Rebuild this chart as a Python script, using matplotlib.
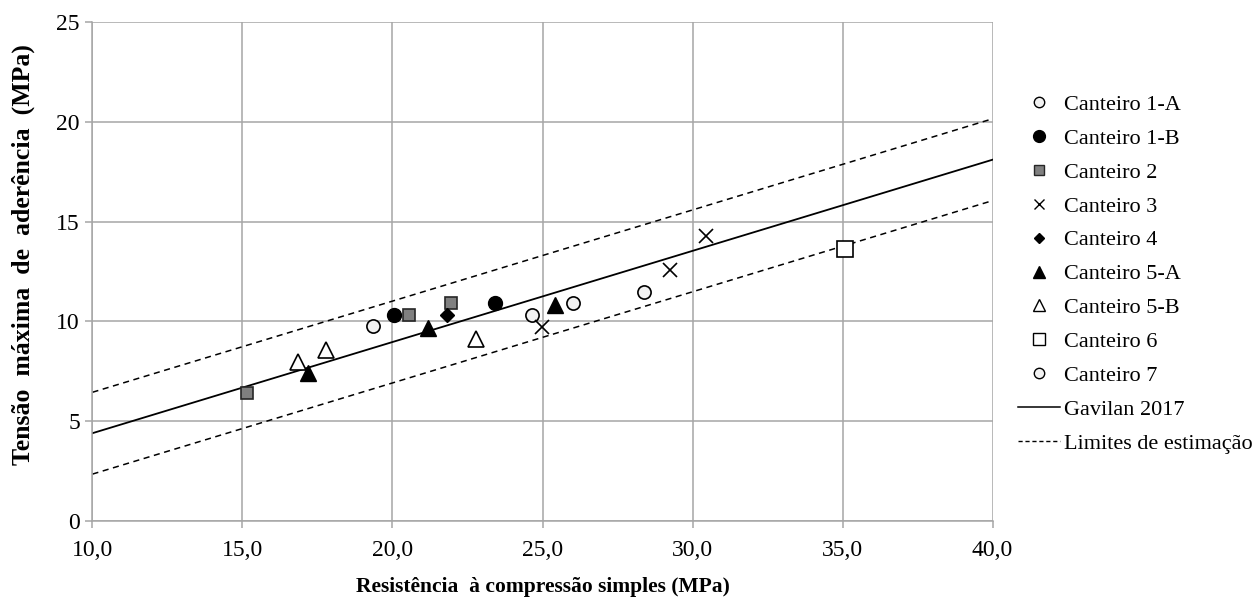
import matplotlib
matplotlib.use("Agg")
import matplotlib.pyplot as plt
import numpy as np
from matplotlib.lines import Line2D

plt.rcParams['font.family'] = ['Liberation Serif', 'DejaVu Serif']

# Measured points per site: (compressive strength MPa, max bond stress MPa)
c1a_x = [19.35, 24.65]
c1a_y = [9.77, 10.32]
c1b_x = [20.05, 23.4]
c1b_y = [10.3, 10.9]
c2_x = [15.15, 20.55, 21.95]
c2_y = [6.4, 10.32, 10.9]
c3_x = [24.98, 29.25, 30.45]
c3_y = [9.74, 12.58, 14.28]
c4_x = [21.83]
c4_y = [10.32]
c5a_x = [17.17, 21.18, 25.43]
c5a_y = [7.4, 9.69, 10.82]
c5b_x = [16.85, 17.78, 22.77]
c5b_y = [7.98, 8.57, 9.1]
c6_x = [35.08]
c6_y = [13.63]
c7_x = [26.03, 28.37]
c7_y = [10.9, 11.45]

# Gavilan 2017 linear model and its estimation band
model_slope = 0.4567
model_intercept = -0.167
band_halfwidth = 2.05

x_ticks = [10, 15, 20, 25, 30, 35, 40]
x_tick_labels = ['10,0', '15,0', '20,0', '25,0', '30,0', '35,0', '40,0']
y_ticks = [0, 5, 10, 15, 20, 25]

fig = plt.figure(figsize=(12.58, 6.01), dpi=100)
ax = fig.add_axes([0.0735, 0.1331, 0.7155, 0.8303])

grid_c = '#a6a6a6'
ax.set_xlim(10, 40)
ax.set_ylim(0, 25)
ax.set_xticks(x_ticks)
ax.set_xticklabels(x_tick_labels)
ax.set_yticks(y_ticks)
ax.grid(True, color=grid_c, linewidth=1.1)
ax.set_axisbelow(True)
for s in ax.spines.values():
    s.set_visible(False)
for side in ('left', 'bottom'):
    ax.spines[side].set_visible(True)
    ax.spines[side].set_color(grid_c)
    ax.spines[side].set_linewidth(1.1)
ax.tick_params(axis='both', colors=grid_c, length=5, width=1.1, labelsize=17,
               labelcolor='black')
ax.tick_params(axis='x', pad=9)
ax.tick_params(axis='y', pad=4)

xs = np.array([10, 40])
ys = model_slope * xs + model_intercept
ax.plot(xs, ys, color='black', linewidth=1.3, zorder=2)
ax.plot(xs, ys + band_halfwidth, color='black', linewidth=1.1,
        linestyle=(0, (4, 3)), zorder=2)
ax.plot(xs, ys - band_halfwidth, color='black', linewidth=1.1,
        linestyle=(0, (4, 3)), zorder=2)

ms = 9.5
ax.plot(c1a_x, c1a_y, 'o', ms=ms, mfc='#f2f2f2', mec='black', mew=1.2, zorder=3)
ax.plot(c1b_x, c1b_y, 'o', ms=ms + 0.5, mfc='black', mec='black', zorder=3)
ax.plot(c2_x, c2_y, 's', ms=ms - 1, mfc='#808080', mec='#262626', mew=1.2, zorder=3)
ax.plot(c3_x, c3_y, 'x', ms=ms + 1, mec='black', mew=1.2, zorder=3)
ax.plot(c4_x, c4_y, 'D', ms=ms - 2, mfc='black', mec='black', zorder=3)
ax.plot(c5a_x, c5a_y, '^', ms=ms + 2, mfc='black', mec='black', zorder=3)
ax.plot(c5b_x, c5b_y, '^', ms=ms + 2, mfc='white', mec='black', mew=1.2, zorder=3)
ax.plot(c6_x, c6_y, 's', ms=ms + 1.5, mfc='white', mec='black', mew=1.2, zorder=3)
ax.plot(c7_x, c7_y, 'o', ms=ms, mfc='#f2f2f2', mec='black', mew=1.2, zorder=3)

ax.set_xlabel('Resistência  à compressão simples (MPa)', fontsize=15.5,
              fontweight='bold', labelpad=11)
ax.set_ylabel('Tensão  máxima  de  aderência  (MPa)', fontsize=18.5,
              fontweight='bold')
ax.yaxis.set_label_coords(-0.064, 0.533)

lms = 7.5
handles = [
    Line2D([], [], ls='none', marker='o', ms=lms, mfc='#f2f2f2', mec='black', mew=1.0),
    Line2D([], [], ls='none', marker='o', ms=lms + 1, mfc='black', mec='black'),
    Line2D([], [], ls='none', marker='s', ms=lms - 0.5, mfc='#808080', mec='#262626', mew=1.0),
    Line2D([], [], ls='none', marker='x', ms=lms, mec='black', mew=1.0),
    Line2D([], [], ls='none', marker='D', ms=lms - 2, mfc='black', mec='black'),
    Line2D([], [], ls='none', marker='^', ms=lms + 1, mfc='black', mec='black'),
    Line2D([], [], ls='none', marker='^', ms=lms + 1, mfc='white', mec='black', mew=1.0),
    Line2D([], [], ls='none', marker='s', ms=lms + 0.5, mfc='white', mec='black', mew=1.0),
    Line2D([], [], ls='none', marker='o', ms=lms, mfc='#f2f2f2', mec='black', mew=1.0),
    Line2D([], [], color='black', lw=1.1),
    Line2D([], [], color='black', lw=1.0, ls=(0, (3, 2))),
]
labels = ['Canteiro 1-A', 'Canteiro 1-B', 'Canteiro 2', 'Canteiro 3', 'Canteiro 4',
          'Canteiro 5-A', 'Canteiro 5-B', 'Canteiro 6', 'Canteiro 7',
          'Gavilan 2017', 'Limites de estimação']
fig.legend(handles, labels, loc='upper left', bbox_to_anchor=(0.809, 0.843),
           frameon=False, fontsize=16, handlelength=1.9, handletextpad=0.2,
           labelspacing=0.6, borderpad=0, borderaxespad=0)

fig.savefig('out.png', dpi=100)
